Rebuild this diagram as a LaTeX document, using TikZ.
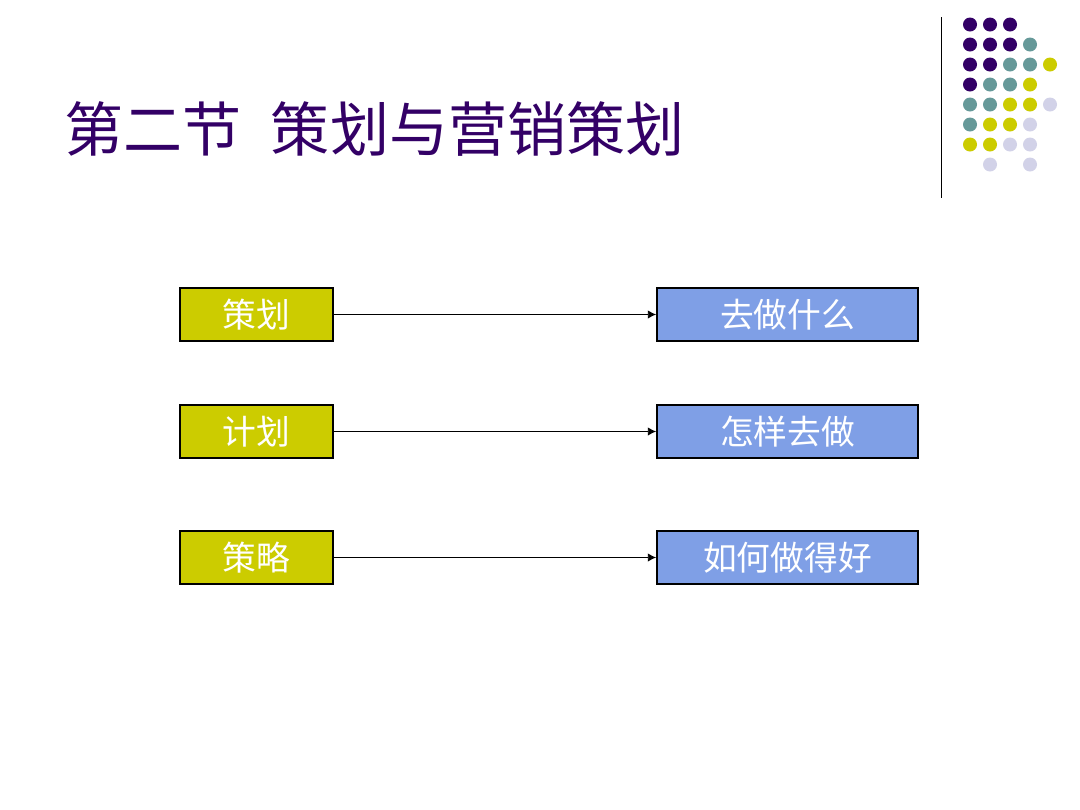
\documentclass[tikz,border=0pt]{standalone}
\usepackage{fontspec}
\newfontfamily\cjk{Noto Sans CJK SC}
\usetikzlibrary{arrows.meta}
\definecolor{titlepurple}{RGB}{51,0,102}
\definecolor{dotteal}{RGB}{102,153,153}
\definecolor{boxolive}{RGB}{204,204,0}
\definecolor{dotlav}{RGB}{210,210,232}
\definecolor{boxblue}{RGB}{127,159,230}
\begin{document}
\begin{tikzpicture}[x=0.025cm,y=-0.025cm,
	lbox/.style={draw=black,line width=1.1pt,fill=boxolive,text=white,minimum width=3.825cm,minimum height=1.325cm,inner sep=0,font=\cjk\fontsize{24}{24}\selectfont},
	rbox/.style={lbox,fill=boxblue,minimum width=6.525cm},
	link/.style={line width=0.7pt,-{Latex[length=6pt,width=6pt]}}]
		\useasboundingbox (0,0) rectangle (1080,810);
		\node [anchor=west,inner sep=0,text=titlepurple,font=\cjk\fontsize{42}{42}\selectfont] at (64,129) (title) {第二节\hspace{0.5em}策划与营销策划};
		\draw [line width=0.7pt] (941,17) -- (941,198);
		\foreach \r/\c in {0/0,0/1,0/2,1/0,1/1,1/2,2/0,2/1,3/0}{
			\fill [titlepurple] ({970+20*\c},{24.5+20*\r}) circle (0.175cm);
		}
		\foreach \r/\c in {1/3,2/2,2/3,3/1,3/2,4/0,4/1,5/0}{
			\fill [dotteal] ({970+20*\c},{24.5+20*\r}) circle (0.175cm);
		}
		\foreach \r/\c in {2/4,3/3,4/2,4/3,5/1,5/2,6/0,6/1}{
			\fill [boxolive] ({970+20*\c},{24.5+20*\r}) circle (0.175cm);
		}
		\foreach \r/\c in {4/4,5/3,6/2,6/3,7/1,7/3}{
			\fill [dotlav] ({970+20*\c},{24.5+20*\r}) circle (0.175cm);
		}
		\foreach \i/\y/\l/\m in {1/314.5/策划/去做什么, 2/431.5/计划/怎样去做, 3/557.5/策略/如何做得好}{
			\node [lbox] at (256.5,\y) (a\i) {\l};
			\node [rbox] at (787.5,\y) (b\i) {\m};
			\draw [link] (a\i) -- (b\i);
		}
	\end{tikzpicture}
\end{document}
